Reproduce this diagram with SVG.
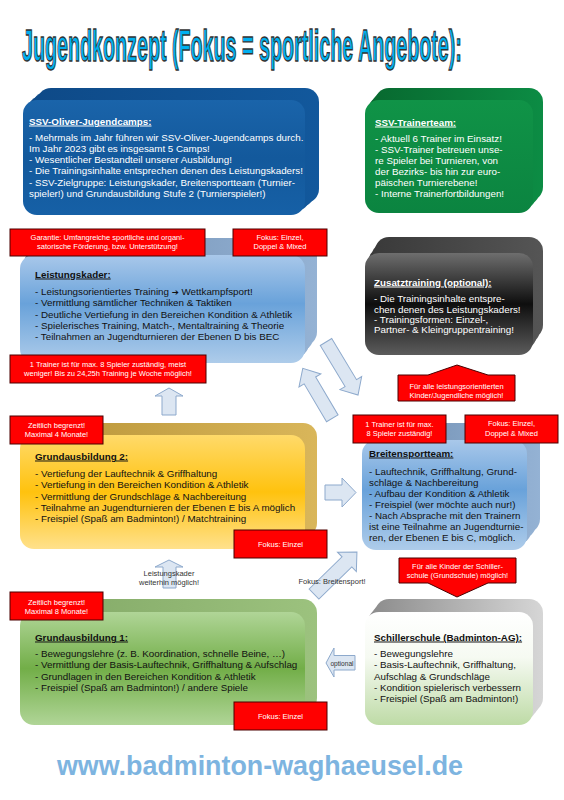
<svg xmlns="http://www.w3.org/2000/svg" width="564" height="800" viewBox="0 0 564 800">
<defs>
<style>
.t{font-family:"Liberation Sans",Arial,sans-serif;font-size:9.8px;fill:#111}
.tw{fill:#fff}
.h{font-weight:bold;text-decoration:underline}
.lab{font-family:"Liberation Sans",Arial,sans-serif;font-size:7.5px;fill:#fff;text-anchor:middle}
.note{font-family:"Liberation Sans",Arial,sans-serif;font-size:7.5px;fill:#333;text-anchor:middle}
.red{fill:#FF0000;stroke:#4A0000;stroke-width:1}
.arr{fill:#DCE6F2;stroke:#8DA9CC;stroke-width:1}
</style>
<linearGradient id="gBlueDark" x1="0" y1="0" x2="0" y2="1"><stop offset="0" stop-color="#1A64AA"/><stop offset="0.5" stop-color="#13599C"/><stop offset="1" stop-color="#1660A6"/></linearGradient>
<linearGradient id="gBlueDarkB" x1="0" y1="0" x2="1" y2="0"><stop offset="0" stop-color="#0E4A88"/><stop offset="1" stop-color="#12589C"/></linearGradient>
<linearGradient id="gGreen" x1="0" y1="0" x2="0" y2="1"><stop offset="0" stop-color="#109347"/><stop offset="1" stop-color="#0B8440"/></linearGradient>
<linearGradient id="gGreenB" x1="0" y1="0" x2="1" y2="0"><stop offset="0" stop-color="#086A30"/><stop offset="1" stop-color="#0C8C44"/></linearGradient>
<linearGradient id="gLight" x1="0" y1="0" x2="0" y2="1"><stop offset="0" stop-color="#A9C8EA"/><stop offset="0.45" stop-color="#69A2DA"/><stop offset="1" stop-color="#AECCEA"/></linearGradient>
<linearGradient id="gLightB" x1="0" y1="0" x2="1" y2="0"><stop offset="0" stop-color="#6F8DB0"/><stop offset="1" stop-color="#94B2D4"/></linearGradient>
<linearGradient id="gDark" x1="0" y1="0" x2="0" y2="1"><stop offset="0" stop-color="#6E6E6E"/><stop offset="0.5" stop-color="#0E0E0E"/><stop offset="1" stop-color="#5C5C5C"/></linearGradient>
<linearGradient id="gDarkB" x1="0" y1="0" x2="1" y2="0"><stop offset="0" stop-color="#3A3A3A"/><stop offset="1" stop-color="#555"/></linearGradient>
<linearGradient id="gYellow" x1="0" y1="0" x2="0" y2="1"><stop offset="0" stop-color="#FFDA6A"/><stop offset="0.5" stop-color="#FFC20E"/><stop offset="1" stop-color="#FFE18C"/></linearGradient>
<linearGradient id="gYellowB" x1="0" y1="0" x2="1" y2="0"><stop offset="0" stop-color="#B89438"/><stop offset="1" stop-color="#D9B65A"/></linearGradient>
<linearGradient id="gGreenL" x1="0" y1="0" x2="0" y2="1"><stop offset="0" stop-color="#B0D597"/><stop offset="0.5" stop-color="#72AE48"/><stop offset="1" stop-color="#B0D597"/></linearGradient>
<linearGradient id="gGreenLB" x1="0" y1="0" x2="1" y2="0"><stop offset="0" stop-color="#82A866"/><stop offset="1" stop-color="#9CC27E"/></linearGradient>
<linearGradient id="gWG" x1="0" y1="0" x2="0" y2="1"><stop offset="0" stop-color="#FFFFFF"/><stop offset="0.4" stop-color="#F6FAF2"/><stop offset="1" stop-color="#BEDBA6"/></linearGradient>
<linearGradient id="gWGB" x1="0" y1="0" x2="1" y2="0"><stop offset="0" stop-color="#8E8E8E"/><stop offset="1" stop-color="#D6D6D6"/></linearGradient>
</defs>

<rect width="564" height="800" fill="#fff"/>

<text transform="translate(22,61) scale(0.448,1)" x="0" y="0" font-family="Liberation Sans, Arial, sans-serif" font-size="44" font-weight="bold" fill="#00B0F0" stroke="#333" stroke-width="1.1" vector-effect="non-scaling-stroke">Jugendkonzept (Fokus = sportliche Angebote):</text>

<g id="connectors">
<polygon class="arr" points="169,388 183,396 176,396 176,415 162,415 162,396 155,396"/>
<polygon class="arr" transform="translate(332.3,418.3) rotate(-120.6)" points="0,-6.7 44,-6.7 44,-12.7 58,0 44,12.7 44,6.7 0,6.7"/>
<polygon class="arr" transform="translate(326,342) rotate(58.9)" points="0,-6.7 48,-6.7 48,-12.7 62,0 48,12.7 48,6.7 0,6.7"/>
<polygon class="arr" points="325,485 342,485 342,478 356,492.5 342,507 342,500 325,500"/>
<polygon class="arr" transform="translate(314,594) rotate(-44.3)" points="0,-7 46,-7 46,-13.5 60,0 46,13.5 46,7 0,7"/>
<polygon class="arr" points="169,560 183,567 176,567 176,588 163,588 163,567 155,567"/>
<polygon class="arr" points="326,663 334,648 334,655.5 355,655.5 355,670 334,670 334,677"/>
<text class="note"><tspan x="169" y="575.5">Leistungskader</tspan><tspan x="169" y="584.5">weiterhin möglich!</tspan></text>
<text class="note" x="332" y="583.5">Fokus: Breitensport!</text>
<text class="note" x="342" y="665.5" style="font-size:6.6px">optional</text>
</g>

<g id="node-camps">
<rect x="27.7" y="96" width="282" height="115" rx="14" fill="url(#gBlueDarkB)"/>
<rect x="32.3" y="92" width="282" height="115" rx="14" fill="url(#gBlueDarkB)"/>
<rect x="37" y="88" width="282" height="115" rx="14" fill="url(#gBlueDarkB)"/>
<rect x="23" y="100" width="282" height="115" rx="14" fill="url(#gBlueDark)"/>
<text class="t tw"><tspan class="h" x="29" y="124.5">SSV-Oliver-Jugendcamps:</tspan>
<tspan x="29" y="140.5">- Mehrmals im Jahr führen wir SSV-Oliver-Jugendcamps durch.</tspan>
<tspan x="29" y="151.8">Im Jahr 2023 gibt es insgesamt 5 Camps!</tspan>
<tspan x="29" y="163.1">- Wesentlicher Bestandteil unserer Ausbildung!</tspan>
<tspan x="29" y="174.4">- Die Trainingsinhalte entsprechen denen des Leistungskaders!</tspan>
<tspan x="29" y="185.7">- SSV-Zielgruppe: Leistungskader, Breitensportteam (Turnier-</tspan>
<tspan x="29" y="197">spieler!) und Grundausbildung Stufe 2 (Turnierspieler!)</tspan></text>
</g>

<g id="node-trainerteam">
<rect x="368.3" y="96" width="168" height="113" rx="14" fill="url(#gGreenB)"/>
<rect x="371.7" y="92" width="168" height="113" rx="14" fill="url(#gGreenB)"/>
<rect x="375" y="88" width="168" height="113" rx="14" fill="url(#gGreenB)"/>
<rect x="365" y="100" width="168" height="113" rx="14" fill="url(#gGreen)"/>
<text class="t tw"><tspan class="h" x="375" y="125.5">SSV-Trainerteam:</tspan>
<tspan x="375" y="141.5">- Aktuell 6 Trainer im Einsatz!</tspan>
<tspan x="375" y="152.5">- SSV-Trainer betreuen unse-</tspan>
<tspan x="375" y="163.5">re Spieler bei Turnieren, von</tspan>
<tspan x="375" y="174.5">der Bezirks- bis hin zur euro-</tspan>
<tspan x="375" y="185.5">päischen Turnierebene!</tspan>
<tspan x="375" y="196.5">- Interne Trainerfortbildungen!</tspan></text>
</g>

<g id="node-leistungskader">
<rect x="24" y="249.3" width="285" height="108" rx="14" fill="url(#gLightB)"/>
<rect x="28" y="243.7" width="285" height="108" rx="14" fill="url(#gLightB)"/>
<rect x="32" y="238" width="285" height="108" rx="14" fill="url(#gLightB)"/>
<rect x="20" y="255" width="285" height="108" rx="14" fill="url(#gLight)"/>
<text class="t"><tspan class="h" x="35" y="277.5">Leistungskader:</tspan>
<tspan x="35" y="294.5">- Leistungsorientiertes Training <tspan font-family="DejaVu Sans, sans-serif" font-size="8.5">➔</tspan> Wettkampfsport!</tspan>
<tspan x="35" y="306">- Vermittlung sämtlicher Techniken &amp; Taktiken</tspan>
<tspan x="35" y="317.5">- Deutliche Vertiefung in den Bereichen Kondition &amp; Athletik</tspan>
<tspan x="35" y="328.8">- Spielerisches Training, Match-, Mentaltraining &amp; Theorie</tspan>
<tspan x="35" y="340">- Teilnahmen an Jugendturnieren der Ebenen D bis BEC</tspan></text>
</g>

<g id="node-zusatztraining">
<rect x="368.3" y="247.7" width="168" height="102" rx="14" fill="url(#gDarkB)"/>
<rect x="371.7" y="242.3" width="168" height="102" rx="14" fill="url(#gDarkB)"/>
<rect x="375" y="237" width="168" height="102" rx="14" fill="url(#gDarkB)"/>
<rect x="365" y="253" width="168" height="102" rx="14" fill="url(#gDark)"/>
<text class="t tw"><tspan class="h" x="374" y="285.5">Zusatztraining (optional):</tspan>
<tspan x="374" y="302">- Die Trainingsinhalte entspre-</tspan>
<tspan x="374" y="312.5">chen denen des Leistungskaders!</tspan>
<tspan x="374" y="322.8">- Trainingsformen: Einzel-,</tspan>
<tspan x="374" y="333">Partner- &amp; Kleingruppentraining!</tspan></text>
</g>

<g id="node-grundausbildung2">
<rect x="24" y="431" width="285" height="114" rx="14" fill="url(#gYellowB)"/>
<rect x="28" y="427" width="285" height="114" rx="14" fill="url(#gYellowB)"/>
<rect x="32" y="423" width="285" height="114" rx="14" fill="url(#gYellowB)"/>
<rect x="20" y="435" width="285" height="114" rx="14" fill="url(#gYellow)"/>
<text class="t"><tspan class="h" x="35" y="459.5">Grundausbildung 2:</tspan>
<tspan x="35" y="476.5">- Vertiefung der Lauftechnik &amp; Griffhaltung</tspan>
<tspan x="35" y="488">- Vertiefung in den Bereichen Kondition &amp; Athletik</tspan>
<tspan x="35" y="499.5">- Vermittlung der Grundschläge &amp; Nachbereitung</tspan>
<tspan x="35" y="510.5">- Teilnahme an Jugendturnieren der Ebenen E bis A möglich</tspan>
<tspan x="35" y="521.5">- Freispiel (Spaß am Badminton!) / Matchtraining</tspan></text>
</g>

<g id="node-breitensport">
<rect x="366.3" y="434.3" width="165" height="110" rx="14" fill="url(#gLightB)"/>
<rect x="370.7" y="428.7" width="165" height="110" rx="14" fill="url(#gLightB)"/>
<rect x="375" y="423" width="165" height="110" rx="14" fill="url(#gLightB)"/>
<rect x="362" y="440" width="165" height="110" rx="14" fill="url(#gLight)"/>
<text class="t"><tspan class="h" x="369" y="456.5">Breitensportteam:</tspan>
<tspan x="369" y="474.5">- Lauftechnik, Griffhaltung, Grund-</tspan>
<tspan x="369" y="485.5">schläge &amp; Nachbereitung</tspan>
<tspan x="369" y="496.7">- Aufbau der Kondition &amp; Athletik</tspan>
<tspan x="369" y="507.8">- Freispiel (wer möchte auch nur!)</tspan>
<tspan x="369" y="519">- Nach Absprache mit den Trainern</tspan>
<tspan x="369" y="530.2">ist eine Teilnahme an Jugendturnie-</tspan>
<tspan x="369" y="541.4">ren, der Ebenen E bis C, möglich.</tspan></text>
</g>

<g id="node-grundausbildung1">
<rect x="24" y="607.7" width="285" height="113" rx="14" fill="url(#gGreenLB)"/>
<rect x="28" y="603.3" width="285" height="113" rx="14" fill="url(#gGreenLB)"/>
<rect x="32" y="599" width="285" height="113" rx="14" fill="url(#gGreenLB)"/>
<rect x="20" y="612" width="285" height="113" rx="14" fill="url(#gGreenL)"/>
<text class="t"><tspan class="h" x="35" y="640.5">Grundausbildung 1:</tspan>
<tspan x="35" y="656.5">- Bewegungslehre (z. B. Koordination, schnelle Beine, …)</tspan>
<tspan x="35" y="668">- Vermittlung der Basis-Lauftechnik, Griffhaltung &amp; Aufschlag</tspan>
<tspan x="35" y="679.5">- Grundlagen in den Bereichen Kondition &amp; Athletik</tspan>
<tspan x="35" y="690.5">- Freispiel (Spaß am Badminton!) / andere Spiele</tspan></text>
</g>

<g id="node-schillerschule">
<rect x="368.3" y="607.7" width="168" height="113" rx="14" fill="url(#gWGB)"/>
<rect x="371.7" y="603.3" width="168" height="113" rx="14" fill="url(#gWGB)"/>
<rect x="375" y="599" width="168" height="113" rx="14" fill="url(#gWGB)"/>
<rect x="365" y="612" width="168" height="113" rx="14" fill="url(#gWG)"/>
<text class="t"><tspan class="h" x="374" y="640.5">Schillerschule (Badminton-AG):</tspan>
<tspan x="374" y="656.5">- Bewegungslehre</tspan>
<tspan x="374" y="668">- Basis-Lauftechnik, Griffhaltung,</tspan>
<tspan x="374" y="679.5">Aufschlag &amp; Grundschläge</tspan>
<tspan x="374" y="690.5">- Kondition spielerisch verbessern</tspan>
<tspan x="374" y="701.5">- Freispiel (Spaß am Badminton!)</tspan></text>
</g>

<g id="label-garantie">
<rect class="red" x="10" y="229" width="195" height="27"/>
<text class="lab"><tspan x="107.5" y="239.5">Garantie: Umfangreiche sportliche und organi-</tspan><tspan x="107.5" y="248.8">satorische Förderung, bzw. Unterstützung!</tspan></text>
</g>
<g id="label-lk-fokus">
<rect class="red" x="233" y="229" width="94" height="27"/>
<text class="lab"><tspan x="280" y="239.5">Fokus: Einzel,</tspan><tspan x="280" y="248.8">Doppel &amp; Mixed</tspan></text>
</g>
<g id="label-lk-trainer">
<rect class="red" x="10" y="355" width="196" height="28"/>
<text class="lab"><tspan x="108" y="366.8">1 Trainer ist für max. 8 Spieler zuständig, meist</tspan><tspan x="108" y="376.4">weniger! Bis zu 24,25h Training je Woche möglich!</tspan></text>
</g>
<g id="label-zusatz">
<path class="red" d="M398,375 H428 L457,365 L488,375 H515 V401 H398 Z"/>
<text class="lab"><tspan x="456.5" y="388.8">Für alle leistungsorientierten</tspan><tspan x="456.5" y="397.6">Kinder/Jugendliche möglich!</tspan></text>
</g>
<g id="label-ga2-zeit">
<rect class="red" x="10" y="416" width="93" height="28"/>
<text class="lab"><tspan x="56.5" y="427.8">Zeitlich begrenzt!</tspan><tspan x="56.5" y="437">Maximal 4 Monate!</tspan></text>
</g>
<g id="label-ga2-fokus">
<rect class="red" x="234" y="530" width="93" height="28"/>
<text class="lab" x="280.5" y="547">Fokus: Einzel</text>
</g>
<g id="label-bs-trainer">
<rect class="red" x="353" y="415" width="93" height="28"/>
<text class="lab"><tspan x="399.5" y="427">1 Trainer ist für max.</tspan><tspan x="399.5" y="436">8 Spieler zuständig!</tspan></text>
</g>
<g id="label-bs-fokus">
<rect class="red" x="465" y="415" width="93" height="28"/>
<text class="lab"><tspan x="511.5" y="426">Fokus: Einzel,</tspan><tspan x="511.5" y="435.5">Doppel &amp; Mixed</tspan></text>
</g>
<g id="label-schiller">
<path class="red" d="M399,558 H516 V583 H488 L457,597 L428,583 H399 Z"/>
<text class="lab"><tspan x="457.5" y="568.8">Für alle Kinder der Schiller-</tspan><tspan x="457.5" y="578">schule (Grundschule) möglich!</tspan></text>
</g>
<g id="label-ga1-zeit">
<rect class="red" x="10" y="592" width="93" height="28"/>
<text class="lab"><tspan x="56.5" y="604.5">Zeitlich begrenzt!</tspan><tspan x="56.5" y="613.5">Maximal 8 Monate!</tspan></text>
</g>
<g id="label-ga1-fokus">
<rect class="red" x="234" y="702" width="93" height="28"/>
<text class="lab" x="280.5" y="718.5">Fokus: Einzel</text>
</g>

<text x="57" y="775" textLength="406" lengthAdjust="spacingAndGlyphs" font-family="Liberation Sans, Arial, sans-serif" font-size="27" font-weight="bold" fill="#7DB4E0">www.badminton-waghaeusel.de</text>
</svg>
